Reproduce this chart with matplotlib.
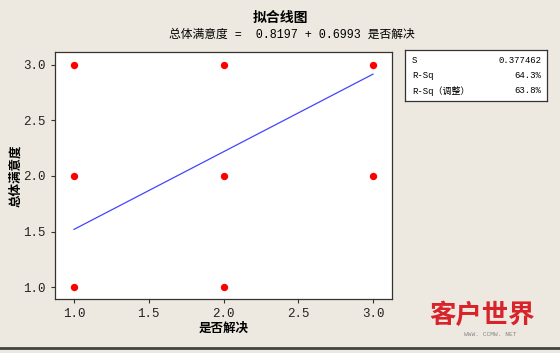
import numpy as np
import matplotlib.pyplot as plt

plt.rcParams['font.family'] = ['Noto Sans CJK SC', 'DejaVu Sans']

# data
x_vals = [1, 1, 1, 2, 2, 2, 3, 3]
y_vals = [1, 2, 3, 1, 2, 3, 2, 3]
intercept = 0.8197
slope = 0.6993
stats_names = ['S', 'R-Sq', 'R-Sq\uff08调整\uff09']
stats_vals = ['0.377462', '64.3%', '63.8%']
ticks = [1.0, 1.5, 2.0, 2.5, 3.0]

bg = '#EEE9E0'
mono = ['Liberation Mono', 'DejaVu Sans Mono']

fig = plt.figure(figsize=(5.6, 3.53), dpi=100, facecolor=bg)
W, H = 560, 353
ax = fig.add_axes([55 / W, 1 - 299 / H, (392 - 55) / W, (299 - 52) / H])
ax.set_facecolor('white')

line_x = np.array([1.0, 3.0])
ax.plot(line_x, intercept + slope * line_x, color='#4444FF', lw=0.9)
ax.scatter(x_vals, y_vals, s=28, color='#FF0000', zorder=3, linewidths=0)

ax.set_xlim(0.873, 3.127)
ax.set_ylim(0.892, 3.117)
ax.set_xticks(ticks)
ax.set_yticks(ticks)
ax.set_xticklabels([f'{t:.1f}' for t in ticks], family=mono, fontsize=9)
ax.set_yticklabels([f'{t:.1f}' for t in ticks], family=mono, fontsize=9)
ax.tick_params(direction='out', length=3, width=0.8, color='#333333', labelcolor='#222222')
for s in ax.spines.values():
    s.set_color('#333333')
    s.set_linewidth(0.9)

ax.set_xlabel('是否解决', fontsize=9, fontweight='bold', labelpad=1)
ax.set_ylabel('总体满意度', fontsize=9, fontweight='bold', labelpad=1)

fig.text(280 / W, 1 - 18 / H, '拟合线图', ha='center', va='center',
         fontsize=10, fontweight='bold')
fig.text(292 / W, 1 - 35 / H, '总体满意度 =  0.8197 + 0.6993 是否解决',
         ha='center', va='center', fontsize=8.5,
         family=['Liberation Mono', 'Noto Sans CJK SC'])

# stats box
box = fig.add_axes([405 / W, 1 - 101 / H, (547 - 405) / W, (101 - 50) / H])
box.set_xticks([])
box.set_yticks([])
box.set_facecolor('white')
for s in box.spines.values():
    s.set_color('#333333')
    s.set_linewidth(0.9)
for i, (n, v) in enumerate(zip(stats_names, stats_vals)):
    yy = 0.8 - i * 0.3
    box.text(0.05, yy, n, transform=box.transAxes, va='center', fontsize=6.5,
             family=['Liberation Mono', 'Noto Sans CJK SC'])
    box.text(0.96, yy, v, transform=box.transAxes, va='center', ha='right',
             fontsize=6.5, family=mono)

# watermark
fig.text(482 / W, 1 - 315 / H, '客户世界', ha='center', va='center',
         fontsize=19, fontweight='bold', color='#D9232A')
fig.text(490 / W, 1 - 335 / H, 'WWW. CCMW. NET', ha='center', va='center',
         fontsize=4.5, color='#888888', family=mono)

# bottom frame line
fig.add_artist(plt.Line2D([0, 1], [1 - 348 / H, 1 - 348 / H], color='#444444', lw=2))

fig.savefig('out.png', dpi=100, facecolor=bg)
